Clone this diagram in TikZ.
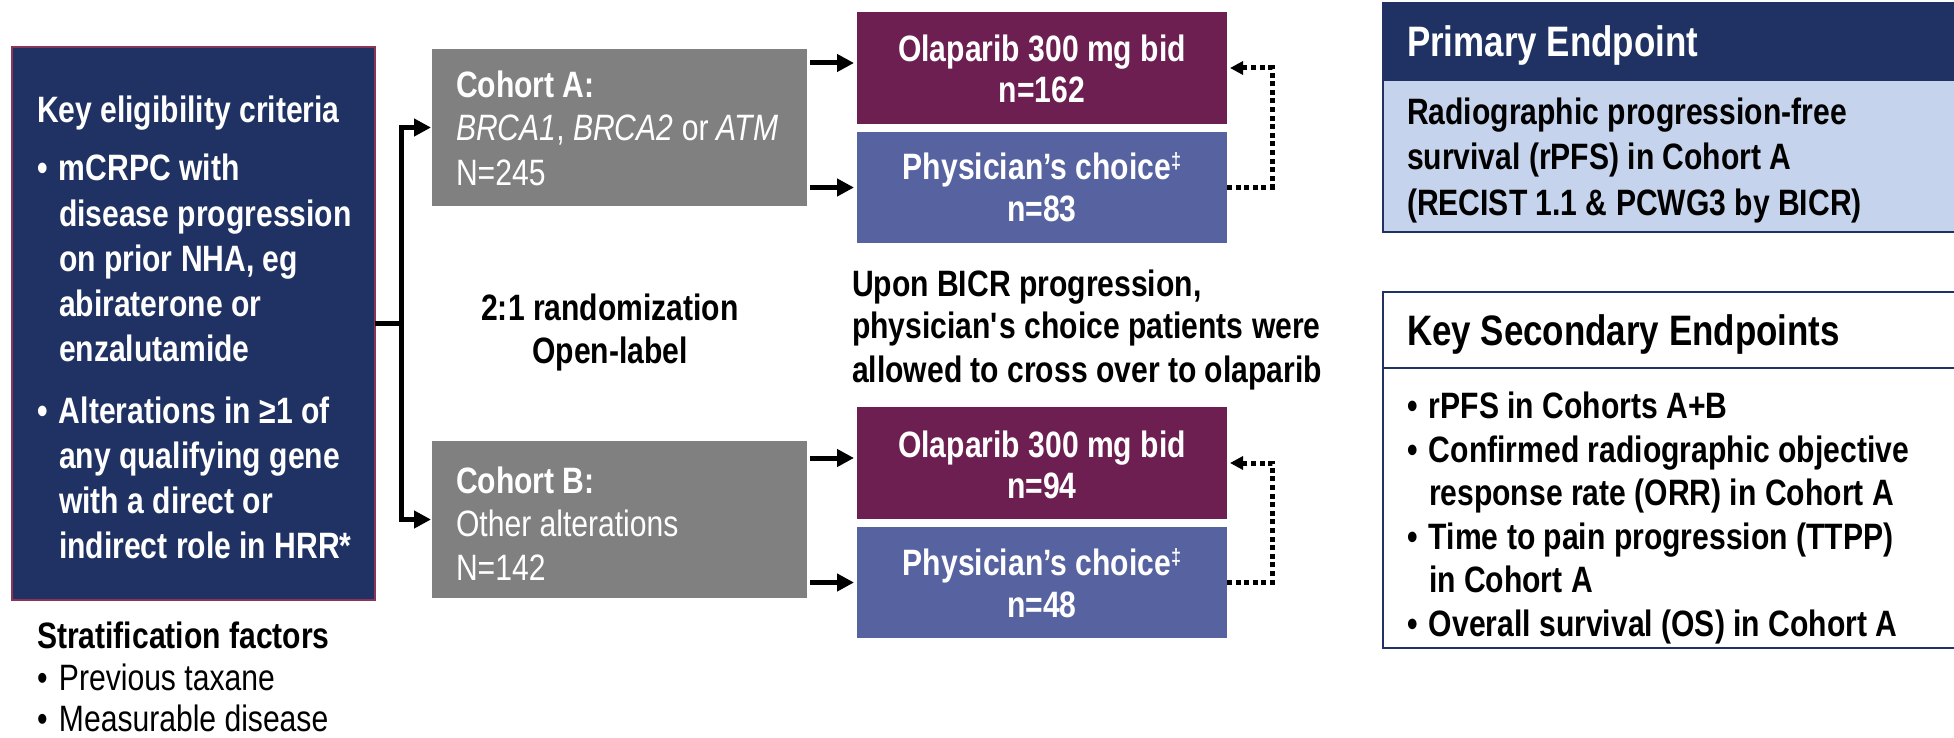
\documentclass[tikz,border=0pt]{standalone}
\usepackage{fontspec}
\setmainfont{Liberation Sans}
\newfontfamily\nar{Liberation Sans}[FakeStretch=0.82]
\usetikzlibrary{arrows.meta}
\definecolor{navy}{HTML}{1F3263}
\definecolor{plum}{HTML}{6C1F50}
\definecolor{slate}{HTML}{5763A0}
\definecolor{cgray}{HTML}{808080}
\definecolor{lblue}{HTML}{C6D3EC}
\definecolor{edgered}{HTML}{8A3558}
\newcommand{\fsz}{\fontsize{36.7}{44}\selectfont}
\newcommand{\fhd}{\fontsize{42.6}{50}\selectfont}
\newcommand{\bul}{\makebox[22pt][l]{•}}
\newcommand{\ddgmark}{\raisebox{11pt}{\fontsize{22}{22}\selectfont ‡}}
\begin{document}
\begin{tikzpicture}[x=1pt,y=-1pt,
  box/.style={inner sep=0pt, outer sep=0pt, anchor=north west},
  T/.style={inner sep=0pt, outer sep=0pt, anchor=base west, font=\nar\bfseries\fsz},
  TR/.style={T, font=\nar\fsz},
  TC/.style={T, anchor=base},
  conn/.style={line width=5pt, draw=black},
  arr/.style={conn, -{Triangle[length=17pt,width=17pt]}, shorten >=3pt},
  dotarr/.style={line width=5pt, draw=black, dash pattern=on 5pt off 3.6pt, -{Triangle[length=13pt,width=13pt]}, shorten >=3pt}
]
\fill[white] (0,0) rectangle (1954,738);
\useasboundingbox (0,0) rectangle (1954,738);

% ---------- left eligibility box ----------
\node[box, fill=navy, draw=edgered, line width=1.5pt, minimum width=363pt, minimum height=553pt] (elig) at (12,47) {};
\begin{scope}[every node/.style={text=white}]
\node[T] (e0) at (37,123) {Key eligibility criteria};
\node[T] (e1) at (37,181) {\bul mCRPC with};
\node[T] (e2) at (59,226) {disease progression};
\node[T] (e3) at (59,271) {on prior NHA, eg};
\node[T] (e4) at (59,316) {abiraterone or};
\node[T] (e5) at (59,361) {enzalutamide};
\node[T] (e6) at (37,423) {\bul Alterations in ≥1 of};
\node[T] (e7) at (59,468) {any qualifying gene};
\node[T] (e8) at (59,513) {with a direct or};
\node[T] (e9) at (59,558) {indirect role in HRR*};
\end{scope}

% ---------- stratification ----------
\node[T] (s0) at (37,648) {Stratification factors};
\node[TR] (s1) at (37,690) {\bul Previous taxane};
\node[TR] (s2) at (37,731) {\bul Measurable disease};

% ---------- cohorts ----------
\node[box, fill=cgray, minimum width=375pt, minimum height=157pt] (cohA) at (432,49) {};
\node[box, fill=cgray, minimum width=375pt, minimum height=157pt] (cohB) at (432,441) {};
\begin{scope}[every node/.style={text=white}]
\node[T] (ca1) at (456,98) {Cohort A:};
\node[TR] (ca2) at (456,141) {\textit{BRCA1}, \textit{BRCA2} or \textit{ATM}};
\node[TR] (ca3) at (456,186) {N=245};
\node[T] (cb1) at (456,493) {Cohort B:};
\node[TR] (cb2) at (456,536) {Other alterations};
\node[TR] (cb3) at (456,580) {N=142};
\end{scope}

% ---------- treatment boxes ----------
\node[box, fill=plum, minimum width=370pt, minimum height=112pt] (olA) at (857,12) {};
\node[box, fill=slate, minimum width=370pt, minimum height=111pt] (phA) at (857,132) {};
\node[box, fill=plum, minimum width=370pt, minimum height=112pt] (olB) at (857,407) {};
\node[box, fill=slate, minimum width=370pt, minimum height=111pt] (phB) at (857,527) {};
\begin{scope}[every node/.style={text=white}]
\node[TC] (oa1) at (1042,62) {Olaparib 300 mg bid};
\node[TC] (oa2) at (1042,103) {n=162};
\node[TC] (pa1) at (1042,180) {Physician’s choice\ddgmark};
\node[TC] (pa2) at (1042,222) {n=83};
\node[TC] (ob1) at (1042,457) {Olaparib 300 mg bid};
\node[TC] (ob2) at (1042,498) {n=94};
\node[TC] (pb1) at (1042,575) {Physician’s choice\ddgmark};
\node[TC] (pb2) at (1042,617) {n=48};
\end{scope}

% ---------- middle texts ----------
\node[TC] (r1) at (610,320) {2:1 randomization};
\node[TC] (r2) at (610,363) {Open-label};
\node[T] (u1) at (852,296) {Upon BICR progression,};
\node[T] (u2) at (852,338) {physician\textquotesingle s choice patients were};
\node[T] (u3) at (852,382) {allowed to cross over to olaparib};

% ---------- connectors ----------
\coordinate (J) at (401,323.5);
\draw[conn] (elig.east) -- (J);
\draw[arr, shorten >=1pt] (J) |- (cohA.west);
\draw[arr, shorten >=1pt] (J) |- (cohB.west);
\coordinate (tA) at ([yshift=5pt]olA.west);
\coordinate (tB) at ([yshift=5pt]olB.west);
\draw[arr, shorten <=3pt] (cohA.east |- tA) -- (tA);
\draw[arr, shorten <=3pt] (cohA.east |- phA.west) -- (phA.west);
\draw[arr, shorten <=3pt] (cohB.east |- tB) -- (tB);
\draw[arr, shorten <=3pt] (cohB.east |- phB.west) -- (phB.west);
\draw[dotarr] (phA.east) -- ++(45,0) |- (olA.east);
\draw[dotarr] (phB.east) -- ++(45,0) |- (olB.east);

% ---------- primary endpoint ----------
\node[box, fill=navy, draw=navy, line width=2pt, minimum width=575pt, minimum height=77pt] (ph) at (1383,3) {};
\node[box, fill=lblue, draw=navy, line width=2pt, minimum width=575pt, minimum height=152pt] (pbd) at (1383,80) {};
\node[T, text=white, font=\nar\bfseries\fhd] (pt) at (1407,57) {Primary Endpoint};
\node[T] (p1) at (1407,125) {Radiographic progression-free};
\node[T] (p2) at (1407,170) {survival (rPFS) in Cohort A};
\node[T] (p3) at (1407,215) {(RECIST 1.1 \& PCWG3 by BICR)};

% ---------- secondary endpoints ----------
\node[box, fill=white, draw=navy, line width=2.5pt, minimum width=575pt, minimum height=76pt] (sh) at (1383,292) {};
\node[box, fill=white, draw=navy, line width=2.5pt, minimum width=575pt, minimum height=280pt] (sbd) at (1383,368) {};
\node[T, font=\nar\bfseries\fhd] (st) at (1407,345) {Key Secondary Endpoints};
\node[T] (k1) at (1407,418) {\bul rPFS in Cohorts A+B};
\node[T] (k2) at (1407,462) {\bul Confirmed radiographic objective};
\node[T] (k3) at (1429,505) {response rate (ORR) in Cohort A};
\node[T] (k4) at (1407,549) {\bul Time to pain progression (TTPP)};
\node[T] (k5) at (1429,592) {in Cohort A};
\node[T] (k6) at (1407,636) {\bul Overall survival (OS) in Cohort A};
\end{tikzpicture}
\end{document}
